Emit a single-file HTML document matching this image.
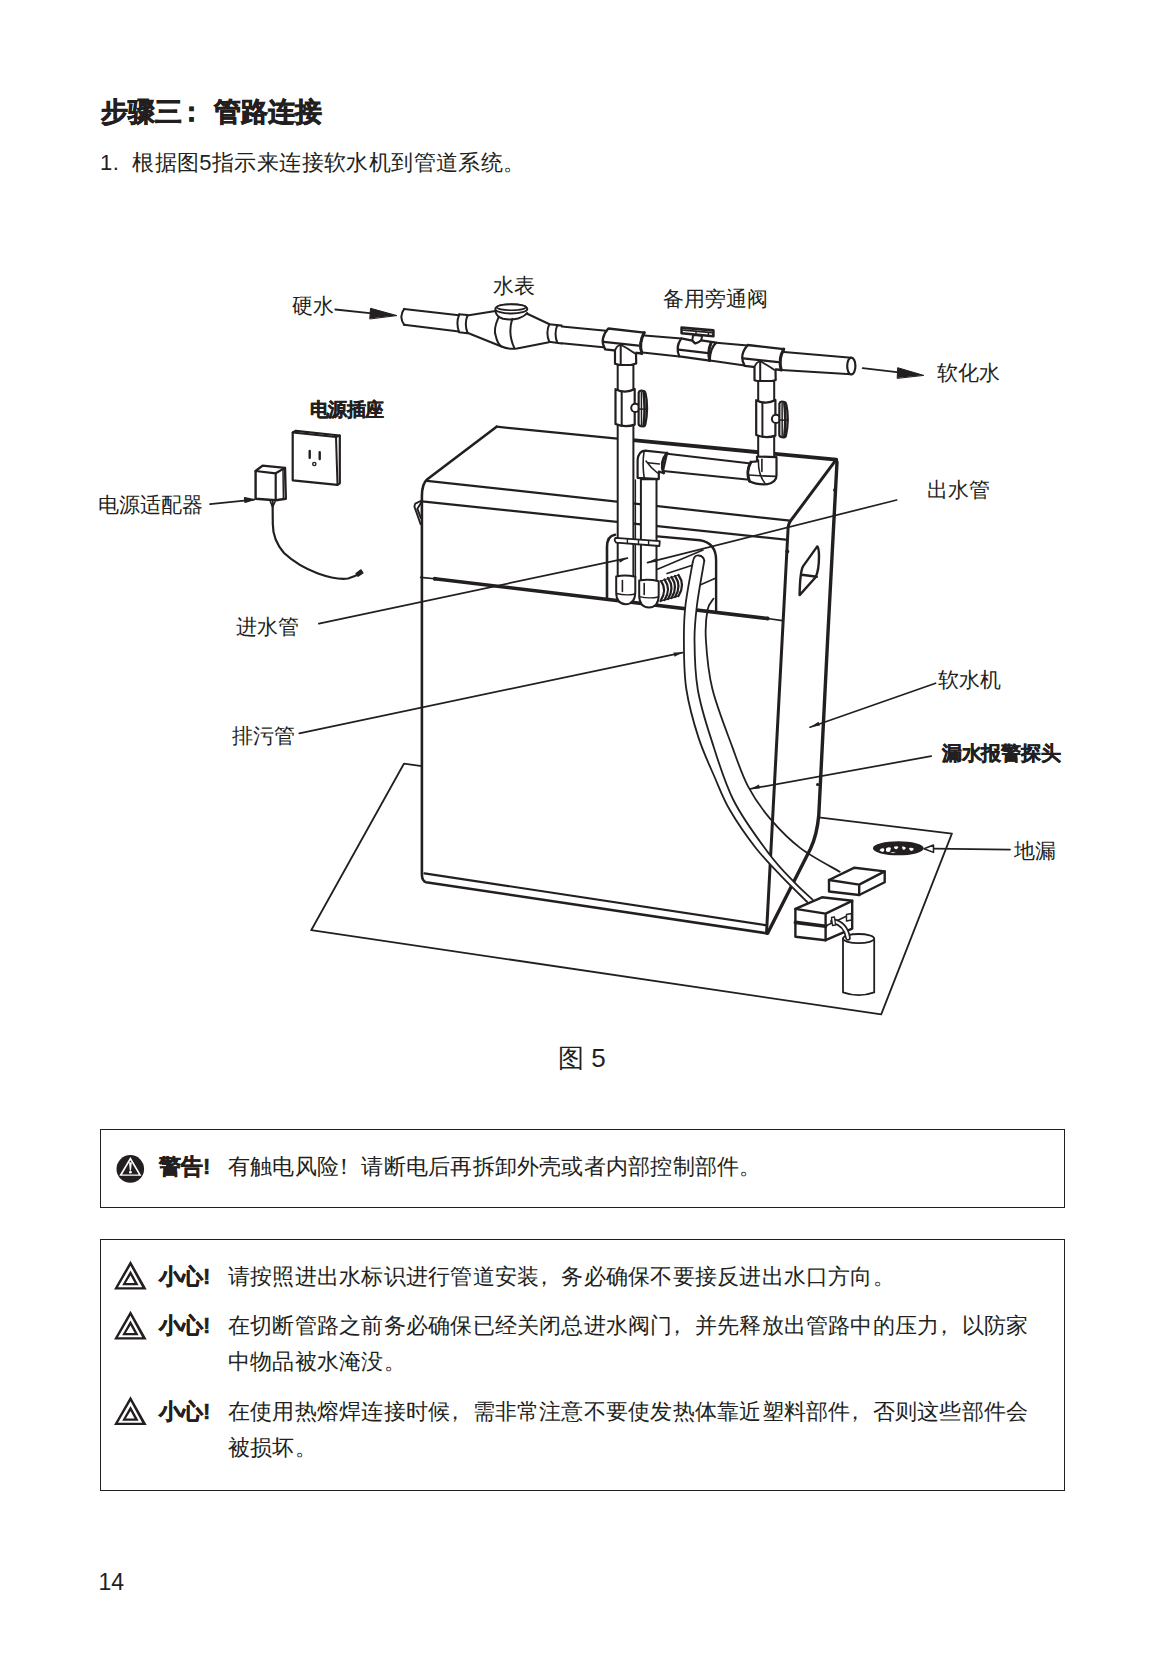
<!DOCTYPE html>
<html lang="zh">
<head>
<meta charset="utf-8">
<title>步骤三：管路连接</title>
<style>
html,body{margin:0;padding:0;background:#fff;}
body{width:1165px;height:1654px;position:relative;overflow:hidden;font-family:"Liberation Sans",sans-serif;color:#231f20;}
.t{position:absolute;white-space:nowrap;line-height:1;}
.h1{font-size:27px;font-weight:bold;-webkit-text-stroke:0.7px #231f20;}
.b{font-size:22px;letter-spacing:0.23px;}
.bb{font-weight:bold;letter-spacing:0;-webkit-text-stroke:0.5px #231f20;}
.lb{font-size:21px;}
.lbb{font-size:20px;font-weight:bold;-webkit-text-stroke:0.4px #231f20;}
.pl{position:relative;left:-0.28em;}
.box{position:absolute;border:1.4px solid #231f20;box-sizing:border-box;}
svg.fig{position:absolute;left:0;top:0;}
</style>
</head>
<body>
<div class="t h1" id="h1" style="left:101px;top:99px;">步骤三<span style="margin-left:-4px">：</span><span style="margin-left:9px">管路连接</span></div>
<div class="t b" id="p1" style="left:100px;top:152px;letter-spacing:0.4px;">1.&nbsp; 根据图5指示来连接软水机到管道系统。</div>

<svg class="fig" width="1165" height="1654" viewBox="0 0 1165 1654" fill="none" stroke="#231f20" stroke-width="2" stroke-linejoin="round" stroke-linecap="round">
<!-- floor mat -->
<path d="M421.9,766.1 L403.9,763.7 L311.2,930.2 L881.2,1014.4 L951.9,833.6 L818.6,817.4" stroke-width="1.8"/>
<!-- cabinet outline -->
<path d="M496.6,426.7 L427,479.5 Q421.9,484 421.9,496 L421.9,874 Q421.9,881 426,882.2 L766.5,933.3" stroke-width="2.6"/>
<path d="M424.5,873.3 L765.3,925.1" stroke-width="2.2"/>
<path d="M496.6,426.7 L625,439.4" stroke-width="2.2"/>
<path d="M625,439.4 L836.2,459.7" stroke-width="3.8"/>
<path d="M836.2,459.7 L790.7,520.7 Q788,524 788,530 L766.5,933.3" stroke-width="3"/>
<path d="M837,462 L827.6,640 L818.8,815 Q817,835 810.5,848.7 L767.6,933.3" stroke-width="3.4"/>
<path d="M427,480.8 L790,520.7" stroke-width="2.2"/>
<path d="M421.9,501.4 L785.6,539.6" stroke-width="2.2"/>
<path d="M421.6,500.5 L415.3,503.6 Q414,506 414.8,507.7 L420.6,524.2 M421.2,502.5 L417.4,508.7 L420.8,518" stroke-width="1.9"/>
<!-- seam -->
<path d="M420.6,577.4 L434.8,578.7" stroke-width="1.6"/>
<path d="M434.8,578.7 L767.6,618.5" stroke-width="3.6"/>
<path d="M767.6,618.5 L782.4,620.6" stroke-width="1.6"/>
<circle cx="434.8" cy="578.7" r="2" fill="#231f20" stroke="none"/>
<circle cx="767.6" cy="618.5" r="2" fill="#231f20" stroke="none"/>
<!-- handle slot -->
<path d="M817.3,546.4 L803,566.4 Q800,572 799.6,595.1 L815.6,577.3 Q819,570 819,556.7 Q819,548 817.3,546.4 Z M801.9,574.8 L816.8,576.8" stroke-width="2.4"/>
<!-- bumps -->
<circle cx="834.8" cy="490" r="1.8" fill="#231f20" stroke="none"/>
<circle cx="787.3" cy="551.6" r="2" fill="#231f20" stroke="none"/>
<circle cx="817.6" cy="784.5" r="1.6" fill="#231f20" stroke="none"/>
<!-- recess -->
<path d="M607,598 L607,547 Q607,536 615,534.7" stroke-width="2.6"/>
<path d="M657.5,536.4 L700,540.3 Q716,543 716.1,560 L716.1,610.5" stroke-width="2.4"/>
<path d="M657.5,569.3 L703,550" stroke-width="1.6"/>
<path d="M667,573.5 L693,565 M700,585 L716,578" stroke-width="1.6"/>

<!-- ===== pipework ===== -->
<g fill="#fff">
<!-- main horizontal pipe (open outlines) -->
<path d="M404,308.9 L459,315.3 M404,324.8 L459,331.4" fill="none"/>
<path d="M404.2,308.9 Q398.5,316.8 404.2,324.8" fill="none"/>
<!-- ring L -->
<path d="M459,314.3 L467.3,315.1 L467.3,333.2 L459,332.3 Z" stroke="none"/>
<path d="M459,314.3 L467.3,315.1 M459,332.3 L467.3,333.2 M459.3,314.3 Q455.5,323.2 459.3,332.3 M467.6,315.1 Q464,324 467.6,333.2" fill="none"/>
<!-- cones + meter body -->
<path d="M467.3,315.5 L495.5,311 M467.3,332.8 L501.5,346.5 Q508,349.5 517,348.6 L549,342.2 M526.7,313.5 L549,324" fill="none"/>
<path d="M498.4,317.7 Q493,330 495.8,336 Q497.5,344 501.5,346.5" fill="none"/>
<path d="M495.6,312 Q497,317 503,318.8 Q511,320.5 518,318.5 Q525,316 527.2,313" fill="none"/>
<path d="M512.3,318.9 Q507.5,333 514.4,348.2" fill="none"/>
<!-- ring R -->
<path d="M549,324.2 L561.7,325.6 M549,341.8 L561.7,343.4 M549.3,324.2 Q545.5,333 549.3,341.8 M557.3,325 Q553.8,334 557.3,342.7" fill="none"/>

<path d="M561.7,326.5 L606,330.7 M561.7,343.3 L606,347.4" fill="none"/>
<!-- meter rim -->
<ellipse cx="511.3" cy="308.9" rx="16" ry="4.6"/>
<ellipse cx="511.3" cy="307.3" rx="14.5" ry="2.9" stroke-width="1.6"/>

<!-- pipes between fittings -->
<path d="M644.5,335.4 L681.3,338.6 M642.5,352.4 L679.4,356.4" fill="none"/>
<path d="M716.3,342.7 L747.8,345.5 M710,360.6 L744.7,365.6" fill="none"/>
<path d="M784,352 L851.3,357.8 M781.3,369.9 L851.3,374.3" fill="none"/>
<!-- tee 1 (and tee 2 via use) -->
<g id="tee">
<path d="M608.3,328.5 L644.3,332.6 Q638.5,343 641.8,353.5 L605.2,349.4 Q599,339 608.3,328.5 Z" stroke-width="2.3"/>
<path d="M644.3,332.6 Q638.5,343 641.8,353.5" fill="none" stroke-width="3"/>
<path d="M603.7,341.9 L638.6,345.6" fill="none" stroke-width="2.2"/>
<path d="M615.2,349 L615.2,363.8 Q625.3,367.5 636,363.5 L636,351.5 Z" stroke="none"/>
<path d="M615,350.3 L615,363.8 Q625.3,367.5 636.2,363.5 L636,353.2" fill="none" stroke-width="2.2"/>
<path d="M615,350.6 Q616.5,345.5 620.7,344.8 Q627,348 634.6,353.2" stroke-width="1.8"/>
<path d="M620.7,345 L620.7,365.5" fill="none" stroke-width="2"/>
</g>
<use href="#tee" transform="translate(139.5,16.5)"/>
<!-- bypass valve -->
<path d="M693.1,335 L702.1,335.8 L701.2,340.5 Q698,343.8 695.5,343.3 Q692.5,342 692.2,340.8 Z" stroke-width="2"/>
<path d="M681.3,338.4 L692.2,340.6 Q695,344 695.5,343.3 Q699,342.5 701.2,340.3 L716.3,342.7 Q710,348 709.7,360.6 L679.4,356.4 Q675,347.5 681.3,338.4 Z" stroke-width="2.3"/>
<path d="M678.5,349.7 L708.2,353.2" fill="none" stroke-width="2.2"/>
<path d="M711,343.1 Q707.5,351 709.7,360.6" fill="none" stroke-width="3"/>
<path d="M681.6,327.6 L713.4,330.4 L713.4,336.3 L681.6,333.3 Z" stroke-width="2.6"/>
<path d="M683.8,330.2 L712,332.7" fill="none" stroke-width="1.8"/>
<path d="M696,331.5 L696,334 M708.4,332.6 L708.4,335.4" fill="none" stroke-width="1.4"/>
<!-- end of pipe -->
<ellipse cx="851.3" cy="366" rx="4.1" ry="8.4" stroke-width="2.2"/>

<!-- vertical pipe left (inlet) -->
<path d="M617.7,365 L633.4,365 L633.4,580 L617.7,580 Z"/>
<g id="valve">
<path d="M615.5,389.2 Q625.6,394.2 634.7,389 L634.7,424.6 Q625.6,428 615.5,424 Z" stroke-width="2.2"/>
<path d="M621.7,391.8 L621.7,425.8" fill="none" stroke-width="2"/>
<circle cx="635.3" cy="407.9" r="4.1" stroke-width="2"/>
<path d="M638.7,392.5 Q639.2,390.6 641.3,390.7 L643.8,391 Q645.2,391.3 645.5,393 Q647.2,400 647.1,408.4 Q647,417 645.3,424.5 Q644.9,426.4 643.2,426.4 L640.9,426.2 Q638.6,425.8 638.6,423.8 Z" stroke-width="2.2"/>
<path d="M641.4,392.2 L641.5,425" fill="none" stroke-width="1.5"/>
<path d="M643.6,391.5 Q645.6,408.5 643.6,425.8" fill="none" stroke-width="2.6"/>
<path d="M638.8,409 L646.8,409.2" fill="none" stroke-width="1.4"/>
</g>
<!-- vertical pipe right (upper) -->
<path d="M758.2,381 L774.2,381 L774.2,470 L758.2,470 Z"/>
<use href="#valve" transform="translate(140.7,11)"/>
<!-- horizontal connector pipe -->
<path d="M667,453.7 L751,463.4 L749.4,479.8 L663,470.9 Z"/>
<!-- elbow right -->
<path d="M750.9,462 Q745.5,471.5 749.5,481.2 Q757,485 767.4,484.2 Q776.5,482 776.5,475.5 L776.5,457.2 L757,456.5 L757,461.3 Z" stroke-width="2.2"/>
<path d="M750.9,462 Q745.5,471.5 749.5,481.2" fill="none" stroke-width="2.8"/>
<path d="M748.8,475 Q762,476 776,476.4" fill="none" stroke-width="1.6"/>
<path d="M758.4,460 Q758,474 764.6,482.8" fill="none" stroke-width="1.6"/>
<path d="M761.9,459.3 L761.9,471.5" fill="none" stroke-width="1.6"/>
<!-- elbow left -->
<path d="M637.6,477.8 L637.6,460 Q638.5,451 645,450.6 L667.1,453 Q659.5,462 663.7,473 L658.8,471.6 L658.8,479.1 Z" stroke-width="2.2"/>
<path d="M667.1,453 Q659.5,462 663.7,473" fill="none" stroke-width="2.8"/>
<path d="M644,451.8 Q642,465 644.4,479" fill="none" stroke-width="1.6"/>
<path d="M647.9,462.7 L659.5,464 M646,461 Q651,468 657.5,473" fill="none" stroke-width="1.5"/>
<!-- lower vertical pipe (outlet) -->
<path d="M640.9,479.3 L656.5,479.3 L656.5,583 L640.9,583 Z"/>
<path d="M635.4,480 L635.4,578" fill="none" stroke-width="1.4"/>
<!-- clamp -->
<path d="M615.5,537.8 L659.8,541.2 L659.4,546 L616.4,542.7 Q613.5,540.2 615.5,537.8 Z" stroke-width="1.8"/>
<path d="M627.4,539 L627.4,543.6 M638.5,540 L638.5,544.5 M648.6,540.6 L648.6,545.3" stroke-width="1.4"/>
<!-- bottom elbows -->
<path d="M616.2,576.5 Q625.5,574.5 635.3,576.8 L635.3,592 Q635,604.2 625.7,604.2 Q616.2,604 616.2,592 Z" stroke-width="2"/>
<path d="M616.5,593.5 Q626,596 635,594" stroke-width="1.4"/>
<path d="M622.4,580.5 L622.4,591.5" stroke-width="1.6"/>
<path d="M639.2,580.5 Q649,578.8 658.7,581.2 L658.7,595 Q658.6,607.4 649,607.4 Q639.2,607.3 639.2,595 Z" stroke-width="2"/>
<path d="M639.4,596.6 Q649,599 658.5,597" stroke-width="1.4"/>
<path d="M644.2,583.5 L644.2,594.5" stroke-width="1.6"/>
</g>
<!-- spring coil -->
<g stroke-width="2.2">
<path d="M661,581 Q667.5,590 660.5,601"/>
<path d="M664.5,579.5 Q671.5,589 664.5,600"/>
<path d="M668,578 Q675,588 668,599"/>
<path d="M671.5,577 Q678.5,587 671.5,598"/>
<path d="M675,576 Q682,586 675,597"/>
<path d="M678.5,575 Q685.5,585 678.5,596"/>
<path d="M661,581 L678.5,575 M660.5,601 L678.5,596" stroke-width="1.3"/>
</g>

<!-- ===== hose & cable ===== -->
<path d="M713.5,598.6 C712.5,600.5 708.8,603.1 707.5,610.0 C706.2,616.9 705.1,626.8 705.9,640.0 C706.7,653.2 708.0,671.3 712.4,689.0 C716.8,706.7 726.0,729.8 732.0,746.1 C738.0,762.4 741.9,774.8 748.3,786.9 C754.7,799.0 761.6,808.7 770.3,818.9 C779.0,829.1 788.8,839.3 800.4,848.1 C812.0,856.9 833.2,867.8 839.7,871.7" stroke-width="1.8"/>
<path d="M692.8,561.8 C691.6,569.0 687.0,592.0 685.5,605.0 C684.0,618.0 683.8,626.0 683.9,640.0 C684.0,654.0 683.8,672.7 686.3,689.0 C688.8,705.3 693.8,723.1 698.6,737.9 C703.4,752.7 709.8,765.9 715.0,778.0 C720.2,790.1 723.2,798.6 730.0,810.3 C736.8,822.0 747.2,837.0 755.8,848.0 C764.4,859.0 772.9,867.4 781.5,876.4 C790.1,885.4 803.0,897.8 807.3,902.1 L812.6,899.6 C809.6,896.7 801.7,890.1 794.4,882.4 C787.1,874.7 778.8,866.9 768.6,853.2 C758.4,839.5 743.0,819.2 733.4,800.0 C723.8,780.8 716.8,756.4 710.8,737.9 C704.8,719.4 700.4,705.3 697.7,689.0 C695.0,672.7 694.6,654.0 694.5,640.0 C694.4,626.0 695.4,618.2 697.0,605.0 C698.6,591.8 703.1,568.1 704.3,560.7 Q698.6,553 692.8,561.8 Z" fill="#fff" stroke="none"/>
<path d="M692.8,561.8 C691.6,569.0 687.0,592.0 685.5,605.0 C684.0,618.0 683.8,626.0 683.9,640.0 C684.0,654.0 683.8,672.7 686.3,689.0 C688.8,705.3 693.8,723.1 698.6,737.9 C703.4,752.7 709.8,765.9 715.0,778.0 C720.2,790.1 723.2,798.6 730.0,810.3 C736.8,822.0 747.2,837.0 755.8,848.0 C764.4,859.0 772.9,867.4 781.5,876.4 C790.1,885.4 803.0,897.8 807.3,902.1" stroke-width="1.8"/>
<path d="M704.3,560.7 C703.1,568.1 698.6,591.8 697.0,605.0 C695.4,618.2 694.4,626.0 694.5,640.0 C694.6,654.0 695.0,672.7 697.7,689.0 C700.4,705.3 704.8,719.4 710.8,737.9 C716.8,756.4 723.8,780.8 733.4,800.0 C743.0,819.2 758.4,839.5 768.6,853.2 C778.8,866.9 787.1,874.7 794.4,882.4 C801.7,890.1 809.6,896.7 812.6,899.6" stroke-width="1.8"/>
<path d="M692.8,561.8 Q694,555 698.6,555.5 Q703.5,556 704.3,560.7" stroke-width="1.8"/>

<!-- ===== leaders ===== -->
<g stroke-width="1.7">
<path d="M896.7,500 L647.5,562.6"/>
<path d="M318.9,623.7 L627.4,558.1"/>
<path d="M299.3,733.4 L682.5,652.6"/>
<path d="M935.6,683.2 L810,727.2"/>
<path d="M931.2,756.2 L750.2,788.9"/>
<path d="M1010,849.6 L933.3,848.7"/>
<path d="M210,504.2 L254.1,499.6"/>
</g>
<g fill="#231f20" stroke="none">
<path d="M647.5,562.6 L655.5,558.5 L656.5,562 Z"/>
<path d="M627.4,558.1 L619,559.5 L619.8,562.8 Z"/>
<path d="M682.5,652.6 L673.5,652.5 L674.5,656.8 Z"/>
<path d="M810,727.2 L818.5,721.8 L820,725.5 Z"/>
<path d="M750.2,788.9 L759,784.5 L759.8,788.6 Z"/>
</g>
<path d="M924,848.7 L933.5,845 L933.5,852.4 Z" fill="#fff" stroke-width="1.5"/>
<path d="M254.1,499.6 L244.5,497.6 L245,502.4 Z" fill="#231f20" stroke-width="1.2"/>

<!-- hard water / soft water arrows -->
<path d="M335.3,309.5 L372,313.3" stroke-width="1.8"/>
<path d="M396.6,315.5 L370.5,308.3 L369.8,318.6 Z" fill="#231f20" stroke-width="1"/>
<path d="M862.7,368.1 L899,372.4" stroke-width="1.8"/>
<path d="M923.4,375.3 L897.7,367.7 L897.2,378 Z" fill="#231f20" stroke-width="1"/>

<!-- ===== floor items ===== -->
<!-- upper sensor box -->
<path d="M829,880 L854.5,867.7 L884.7,871.4 L884.7,882.3 L859.2,895 L829,891.5 Z" fill="#fff" stroke-width="2.4"/>
<path d="M829,880 L859.2,884.6 L884.7,871.4 M859.2,884.6 L859.2,895" stroke-width="2.4"/>
<!-- lower box -->
<path d="M795.4,908.9 L822,897.3 L852.2,900.8 L852.2,928.6 L825.6,940.2 L795.4,936.7 Z" fill="#fff" stroke-width="2.4"/>
<path d="M795.4,908.9 L825.6,913.6 L852.2,900.8 M825.6,913.6 L825.6,940.2" stroke-width="2.4"/>
<path d="M795.4,922.4 L825.6,926.2" stroke-width="3.6"/>
<path d="M825.6,926 L852.2,913.5" stroke-width="1.4"/>
<path d="M846.5,914.5 L851.5,913.5 L851.5,920 L846.5,921 Z" fill="#fff" stroke-width="1.4"/>
<!-- bucket -->
<path d="M843,938.6 L843,992.4 Q858.7,998 874.2,992.4 L874.2,938.6" fill="#fff" stroke-width="1.8"/>
<ellipse cx="858.6" cy="938.6" rx="15.6" ry="4.6" fill="#fff" stroke-width="1.8"/>
<!-- tube from box to bucket -->
<path d="M833,921 Q846,924 848,938" stroke-width="5.5"/>
<path d="M833,921 Q846,924 848,938" stroke="#fff" stroke-width="2.2"/>
<path d="M831.5,917.5 L834.5,917 L835.5,925 L832.5,925.5 Z" fill="#fff" stroke-width="1.3"/>
<!-- floor drain -->
<ellipse cx="898.3" cy="848.3" rx="24.6" ry="6.2" fill="#231f20" stroke-width="1.5"/>
<g fill="#fff" stroke="none"><path d="M879.5,850.5 Q881,847.5 884,848.5 Q885,851 882.5,852 Z"/><path d="M886,848.5 Q889,846.5 891,848 L890,851.5 Q887.5,852.5 886,851 Z"/><path d="M894,846.8 Q897,845.8 898.5,847 L897,849 Q895,849.5 894,848 Z"/><path d="M902,846.5 Q905,846 906,848 L904,850 Q902,849.5 902,846.5 Z"/><path d="M909,848 Q912,847 914,849 L912,851 Q909.5,851 909,848 Z"/><path d="M890,852 L896,852.5 L893,853.2 Z"/></g>

<!-- ===== power ===== -->
<!-- socket -->
<path d="M292.7,432.4 L295.8,430.8 L339.8,435.5 L339.8,483.3 L337.5,484.9 L292.7,480.3 Z" fill="#fff" stroke-width="2.2"/>
<path d="M292.7,432.4 L336,437 L337.5,484.9 M336,437 L339.8,435.5" stroke-width="2"/>
<path d="M309.7,451 L309.7,457.8 M319.7,452.2 L319.7,459" stroke-width="2.4"/>
<circle cx="314.3" cy="464" r="1.6" stroke-width="1.4"/>
<!-- adapter -->
<path d="M255.6,471 L262.6,465.6 L285,467.9 L285.8,498.8 L275.7,500.3 L255.6,498.8 Z" fill="#fff" stroke-width="2.4"/>
<path d="M255.6,471 L275.7,473.3 L275.7,500.3 M275.7,473.3 L285,467.9" stroke-width="2.2"/>
<path d="M283,469 L283.4,498.5" stroke-width="1.5"/>
<!-- cord -->
<path d="M270.3,501.5 L272.6,507 L275,501.8" fill="#fff" stroke-width="1.6"/>
<path d="M272.6,501.9 L272.8,524 Q272.8,540 284,553 Q298,566 318,573.5 Q336,580 348,578.5 Q355,576.5 360.5,572.8" stroke-width="2.2"/>
<path d="M356,573.5 L361,569.8 L363,573 L358,576.3 Z" fill="#231f20" stroke-width="1.2"/>
</svg>

<div class="t lb" style="left:292px;top:295px;">硬水</div>
<div class="t lb" style="left:493px;top:274.5px;">水表</div>
<div class="t lb" style="left:663px;top:288px;">备用旁通阀</div>
<div class="t lb" style="left:937px;top:362px;">软化水</div>
<div class="t lbb" style="left:310px;top:400px;font-size:19px;letter-spacing:-0.6px;">电源插座</div>
<div class="t lb" style="left:927px;top:479px;">出水管</div>
<div class="t lb" style="left:97.5px;top:494px;">电源适配器</div>
<div class="t lb" style="left:236px;top:615.5px;">进水管</div>
<div class="t lb" style="left:938px;top:668.5px;">软水机</div>
<div class="t lb" style="left:232px;top:725px;">排污管</div>
<div class="t lbb" style="left:942px;top:743px;letter-spacing:-0.3px;">漏水报警探头</div>
<div class="t lb" style="left:1014px;top:840px;">地漏</div>

<div class="t" id="cap" style="left:558px;top:1045px;font-size:26px;">图 5</div>

<div class="box" style="left:100px;top:1129px;width:965px;height:79px;"></div>
<div class="t b bb" style="left:159px;top:1156px;">警告!</div>
<div class="t b" style="left:228px;top:1156px;">有触电风险<span class="pl">！</span>请断电后再拆卸外壳或者内部控制部件。</div>

<div class="box" style="left:100px;top:1239px;width:965px;height:252px;"></div>
<div class="t b bb" style="left:159px;top:1266px;">小心!</div>
<div class="t b" style="left:228px;top:1266px;">请按照进出水标识进行管道安装<span class="pl">，</span>务必确保不要接反进出水口方向。</div>
<div class="t b bb" style="left:159px;top:1315px;">小心!</div>
<div class="t b" style="left:228px;top:1315px;">在切断管路之前务必确保已经关闭总进水阀门<span class="pl">，</span>并先释放出管路中的压力<span class="pl">，</span>以防家</div>
<div class="t b" style="left:228px;top:1351px;">中物品被水淹没。</div>
<div class="t b bb" style="left:159px;top:1401px;">小心!</div>
<div class="t b" style="left:228px;top:1401px;">在使用热熔焊连接时候<span class="pl">，</span>需非常注意不要使发热体靠近塑料部件<span class="pl">，</span>否则这些部件会</div>
<div class="t b" style="left:228px;top:1437px;">被损坏。</div>


<svg class="fig" width="1165" height="1654" viewBox="0 0 1165 1654">
<circle cx="130.3" cy="1168.9" r="13.8" fill="#231f20"/>
<path d="M130.4,1157 L141.4,1175.8 L119.3,1175.8 Z M130.4,1160.2 L122.1,1174.5 L138.8,1174.5 Z" fill="#fff" fill-rule="evenodd"/>
<path d="M129,1162.2 L131.8,1162.2 L131,1170.6 L129.8,1170.6 Z" fill="#fff"/>
<circle cx="130.4" cy="1172.2" r="1.35" fill="#fff"/>
<g id="ct" fill-rule="evenodd" fill="#231f20">
<path d="M130.5,1260.7 L146.7,1289.6 L114,1289.6 Z M130.5,1265.8 L118,1287.3 L142.2,1287.3 Z"/>
<path d="M130.5,1270.5 L138.6,1285.2 L122.2,1285.2 Z M130.5,1275.6 L125.9,1283.1 L134.6,1283.1 Z"/>
</g>
<use href="#ct" transform="translate(0,50)"/>
<use href="#ct" transform="translate(0,135.5)"/>
</svg>
<div class="t" style="left:98.5px;top:1571px;font-size:23px;">14</div>
</body>
</html>
